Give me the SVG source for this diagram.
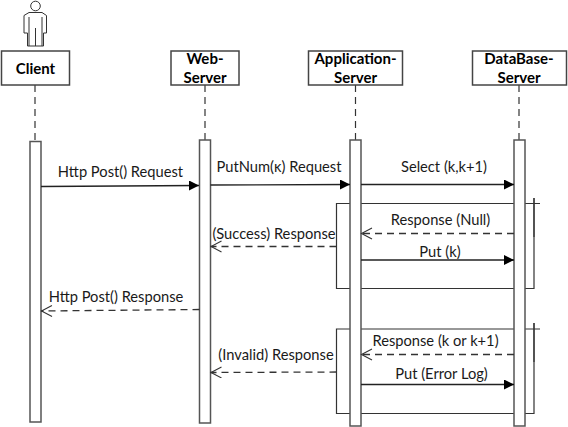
<svg xmlns="http://www.w3.org/2000/svg" width="568" height="427" viewBox="0 0 568 427">
<style>
text{font-family:"Lato","Open Sans","Liberation Sans",sans-serif;font-size:14.700px;fill:#1a1a1a;text-anchor:middle}
.t{font-weight:700;fill:#000;font-size:15px}
.box{fill:#fff;stroke:#444;stroke-width:1.5}
.act{fill:#fff;stroke:#555;stroke-width:1.5}
.life{stroke:#333;stroke-width:1.2;stroke-dasharray:7 5;fill:none}
.msg{stroke:#222;stroke-width:1.3;fill:none}
.ret{stroke:#333;stroke-width:1.3;stroke-dasharray:7 5;fill:none}
.frame{stroke:#333;stroke-width:1.2;fill:none}
</style>
<defs>
<marker id="solid" markerUnits="userSpaceOnUse" markerWidth="11" markerHeight="10" refX="10" refY="5" orient="auto"><path d="M0 0L10 5L0 10Z" fill="#000"/></marker>
<marker id="open" markerUnits="userSpaceOnUse" markerWidth="13" markerHeight="14" refX="12" refY="6" orient="auto"><path d="M1 0.500L11.500 6L1 11.500" fill="none" stroke="#333" stroke-width="1.100"/></marker>
</defs>
<rect width="568" height="427" fill="#fff"/>
<g id="lifelines">
<path class="life" d="M35 85V141"/><path class="life" d="M205 85V140"/><path class="life" d="M355.500 85V140"/><path class="life" d="M519 85V140"/>
</g>
<g id="frames">
<path class="frame" d="M350 203.500H336.500V288.500H534V203.500H514M361 203.500H514M525 203.500H540M534 198V203.500"/>
<path class="frame" d="M350 329H336.500V413.500H534V329H514M361 329H514M525 329H540M534 323V329"/>
<path class="frame" stroke-width="1.800" d="M534 198V237M534 323V362"/>
</g>
<g id="actor">
<circle cx="35.500" cy="6" r="4.800" fill="#fff" stroke="#333" stroke-width="1"/>
<path d="M29 12.500H42L46.500 15.500V33H43.500V46H27.500V33H24V15.500ZM29 17V46M35.500 28V46M42 17V46" fill="#fff" stroke="#333" stroke-width="1"/>
</g>
<g id="client"><rect class="box" x="1.500" y="51" width="68" height="34"/><text class="t" x="35.500" y="73.500">Client</text><rect class="act" x="30" y="141.500" width="11" height="280.500"/></g>
<g id="web"><rect class="box" x="171" y="51" width="68" height="34"/><text class="t" x="205" y="64">Web-</text><text class="t" x="205" y="83">Server</text><rect class="act" x="199.500" y="140" width="11" height="283"/></g>
<g id="app"><rect class="box" x="308.500" y="51" width="94" height="34"/><text class="t" x="355.500" y="64">Application-</text><text class="t" x="355.500" y="83">Server</text><rect class="act" x="350" y="140" width="11" height="286"/></g>
<g id="db"><rect class="box" x="472.500" y="51" width="94" height="34"/><text class="t" x="519" y="64">DataBase-</text><text class="t" x="519" y="83">Server</text><rect class="act" x="514" y="140" width="11" height="286"/></g>
<g id="connectors">
<path class="msg" marker-end="url(#solid)" d="M41 186.500L199 185.500"/>
<path class="msg" marker-end="url(#solid)" d="M210.500 185L350 184.500"/>
<path class="msg" marker-end="url(#solid)" d="M361 184.500H514"/>
<path class="ret" marker-end="url(#open)" d="M514 233.500H361"/>
<path class="ret" marker-end="url(#open)" d="M336.500 246.500H210.500"/>
<path class="msg" marker-end="url(#solid)" d="M361 260H514"/>
<path class="ret" marker-end="url(#open)" d="M199.500 309.500L41 311"/>
<path class="ret" marker-end="url(#open)" d="M514 354.500H361"/>
<path class="ret" marker-end="url(#open)" d="M336.500 372L210.500 372.500"/>
<path class="msg" marker-end="url(#solid)" d="M361 384.500H514"/>
</g>
<g id="labels">
<text x="120.500" y="177">Http Post() Request</text>
<text x="279" y="172">PutNum(κ) Request</text>
<text x="444" y="172">Select (k,k+1)</text>
<text x="440.500" y="225">Response (Null)</text>
<text x="274" y="239">(Success) Response</text>
<text x="440" y="257">Put (k)</text>
<text x="116" y="302">Http Post() Response</text>
<text x="276" y="360">(Invalid) Response</text>
<text x="435.500" y="346">Response (k or k+1)</text>
<text x="441.500" y="379">Put (Error Log)</text>
</g>
</svg>
